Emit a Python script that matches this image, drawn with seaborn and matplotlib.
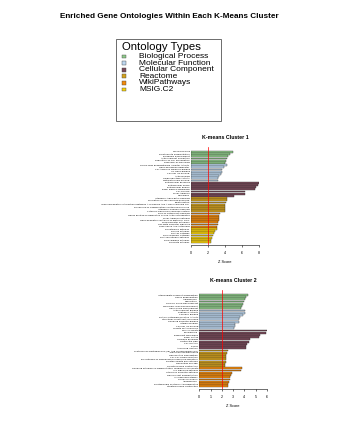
import matplotlib
matplotlib.use("Agg")
import matplotlib.pyplot as plt
import seaborn as sns
import pandas as pd
from matplotlib.patches import Rectangle

# ---------------- data ----------------
type_names = ["Biological Process", "Molecular Function", "Cellular Component",
              "Reactome", "WikiPathways", "MSIG.C2"]
type_colors = ["#8fcb8b", "#bdd7ef", "#7a4a5a", "#d4a21c", "#f28a0c", "#f7d20a"]

c1_terms = [
    "Wound Healing", "Keratinocyte Differentiation", "Epidermis Development",
    "Actin Filament Nucleation", "Regulation Of Cell Proliferation", "Response To Wounding",
    "Serine-Type Endopeptidase Inhibitor Activity", "Gene Expression Regulator",
    "Cell Adhesion Molecule Binding", "UV Gene Binding", "Calcium Ion Binding",
    "Actin Binding", "Oxidoreductase Activity", "Metallothionein Binding",
    "Extracellular Exosome", "Extracellular Space", "Extracellular Region",
    "Basal Plasma Membrane", "Cell Surface", "Focal Adhesion", "Membrane",
    "Interferon Alpha Beta Signaling", "Formation Of The Cornified Envelope",
    "Keratinization", "Immunoregulatory Interactions Between A Lymphoid And A Non Lymphoid Cell",
    "Processing Of Capped Intron Containing Pre Mrna", "Interferon Gamma Signaling",
    "Cytokine Signaling In Immune System",
    "Role Of Osteoblast Signaling", "Genes Related To Regulation Of The Actin Cytoskeleton",
    "Focal Adhesion Pathway", "Gene Regulatory Network Of Epithelial Cells",
    "Drug Receptor Pathways", "TGF Beta Receptor Signaling", "Senescence And Autophagy",
    "Pid Integrin1 Pathway", "Pid Il23 Pathway", "Pid Ap1 Pathway",
    "Pid Syndecan1 Pathway", "Pid Avb3 Integrin Pathway", "Pid Ecadherin Pathway",
    "Pid Tcpta Pathway",
]
c1_types = (["Biological Process"] * 6 + ["Molecular Function"] * 8 +
            ["Cellular Component"] * 7 + ["Reactome"] * 7 +
            ["WikiPathways"] * 7 + ["MSIG.C2"] * 7)
c1_z = [4.96, 4.55, 4.3, 4.2, 4.1, 3.95,
        4.2, 3.9, 3.7, 3.6, 3.5, 3.3, 3.2, 3.15,
        7.95, 7.85, 7.7, 7.55, 6.4, 6.3, 5.1,
        4.25, 4.2, 4.1, 4.0, 3.98, 3.95, 3.95,
        3.45, 3.35, 3.3, 3.25, 3.2, 3.15, 3.1,
        3.0, 2.85, 2.65, 2.55, 2.45, 2.4, 2.4]

c2_terms = [
    "Intermediate Filament Organization", "Tissue Regeneration", "Angiogenesis",
    "Ossification", "Salivary Gland Development", "Mammary Gland Development",
    "Hair Follicle Development",
    "Actin Filament Binding", "Peptidase Activity", "Cadherin Binding",
    "Protein Heterodimerization Activity", "Structural Constituent Of Muscle",
    "Signaling Receptor Binding", "Integrin Binding", "Calcium Ion Binding",
    "Growth Factor Binding",
    "Muscle Sheath", "Sarcolemma", "Basement Membrane", "Basal Cortex",
    "Cornified Envelope", "Contractile Fiber", "Cell Junction", "Z Disc",
    "Anchoring Junction",
    "Synthesis Of Prostaglandins (Pg) And Thromboxanes (Tx)", "Neutrophil Degranulation",
    "Gap Junction Degradation", "Cell Cell Communication",
    "Biosynthesis Of Specialized Proresolving Mediators",
    "Keratan Sulfate Biosynthesis", "Nucleotide Salvage", "Smooth Muscle Contraction",
    "Signaling Pathways In Differentiation Leading To Cell Death",
    "Il17 Signaling Pathway", "Vitamin D Receptor Pathway",
    "Neural Crest Differentiation", "Il1 Signaling Pathway", "Spinal Cord Injury",
    "Adipogenesis", "Prostaglandin Synthesis And Regulation", "Striated Muscle Contraction",
]
c2_types = (["Biological Process"] * 7 + ["Molecular Function"] * 9 +
            ["Cellular Component"] * 9 + ["Reactome"] * 8 +
            ["WikiPathways"] * 9)
c2_z = [4.3, 4.15, 4.02, 3.93, 3.9, 3.8, 3.7,
        4.08, 4.02, 3.9, 3.6, 3.55, 3.5, 3.2, 3.15, 3.1,
        6.0, 5.9, 5.4, 5.3, 4.5, 4.4, 4.2, 4.15, 4.14,
        2.5, 2.45, 2.38, 2.37, 2.36, 2.35, 2.28, 2.28,
        3.78, 3.7, 2.86, 2.8, 2.75, 2.69, 2.63, 2.55, 2.5]

# ---------------- figure ----------------
W, H = 338, 437
fig = plt.figure(figsize=(W / 100, H / 100), dpi=100)
plt.rcParams['font.family'] = ['Liberation Sans', 'DejaVu Sans']
pal = dict(zip(type_names, type_colors))

fig.text(169 / W, 1 - 17 / H, "Enriched Gene Ontologies Within Each K-Means Cluster",
         ha="center", va="center", fontsize=5.9, fontweight="bold")

# legend box
fig.patches.append(Rectangle((116 / W, 1 - 121 / H), 105 / W, 82 / H,
                             transform=fig.transFigure, fill=False,
                             edgecolor="#555555", linewidth=0.6))
fig.text(122 / W, 1 - 46.5 / H, "Ontology Types", ha="left", va="center", fontsize=8.2)
for i, (nm, col) in enumerate(zip(type_names, type_colors)):
    yy = 1 - (56.5 + i * 6.6) / H
    fig.patches.append(Rectangle((122 / W, yy - 1.9 / H), 4.0 / W, 3.8 / H,
                                 transform=fig.transFigure, facecolor=col,
                                 edgecolor="#444444", linewidth=0.3))
    fig.text(139 / W, yy, nm, ha="left", va="center", fontsize=6.0)


def panel(rect_px, terms, types, z, xmax, ticks, title):
    x0, y0, x1, y1 = rect_px
    ax = fig.add_axes([x0 / W, 1 - y1 / H, (x1 - x0) / W, (y1 - y0) / H])
    df = pd.DataFrame({"term": terms, "type": types, "z": z})
    sns.barplot(data=df, x="z", y="term", hue="type", palette=pal, dodge=False,
                orient="h", edgecolor="#222222", linewidth=0.25, width=0.82,
                saturation=1, legend=False, ax=ax)
    n = len(terms)
    ax.set_ylim(n + 0.3, -2.2)
    ax.set_xlim(0, xmax)
    ax.axvline(2, color="red", linewidth=0.5)
    for s in ["top", "right", "left"]:
        ax.spines[s].set_visible(False)
    ax.spines["bottom"].set_bounds(ticks[0], ticks[-1])
    ax.spines["bottom"].set_linewidth(0.4)
    ax.set_xticks(ticks)
    ax.set_xticklabels([str(t) for t in ticks])
    ax.tick_params(axis="x", length=1.5, width=0.4, labelsize=2.6, pad=2.5)
    ax.tick_params(axis="y", length=0, labelsize=1.6, pad=1)
    for lab in ax.get_yticklabels():
        lab.set_family("DejaVu Sans")
    ax.set_ylabel("")
    ax.set_xlabel("Z Score", fontsize=2.8, labelpad=4)
    ax.set_title(title, fontsize=3.8, fontweight="bold", pad=6)
    ax.set_facecolor("none")
    return ax


panel((191, 147, 259, 245), c1_terms, c1_types, c1_z, 8, [0, 2, 4, 6, 8], "K-means Cluster 1")
panel((199.3, 290, 267, 389), c2_terms, c2_types, c2_z, 6, [0, 1, 2, 3, 4, 5, 6], "K-means Cluster 2")

fig.savefig("out.png", dpi=100, facecolor="white")
